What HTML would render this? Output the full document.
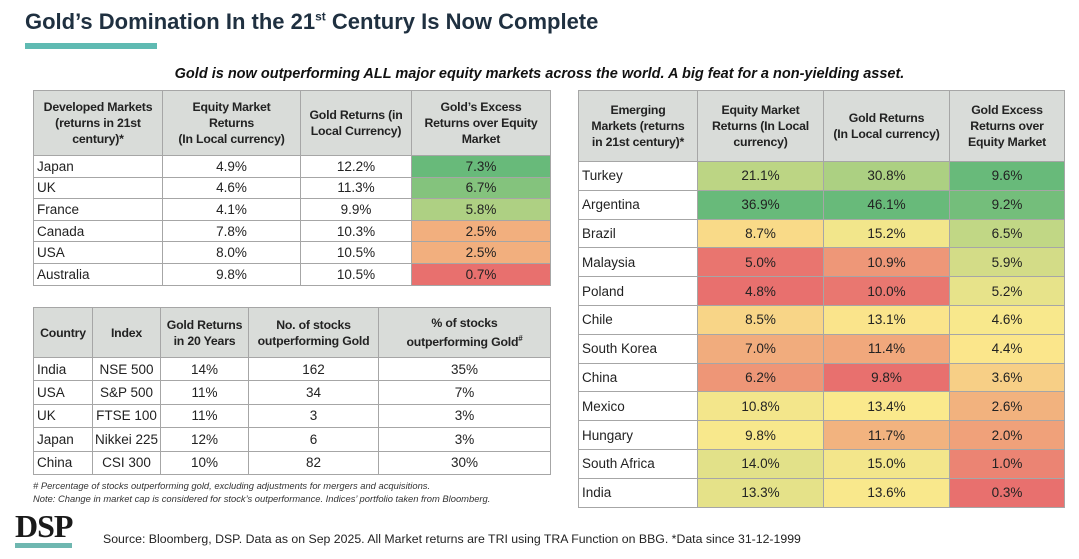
<!DOCTYPE html>
<html><head><meta charset="utf-8">
<style>
html,body{margin:0;padding:0;background:#fff;}
body{width:1079px;height:559px;position:relative;overflow:hidden;font-family:"Liberation Sans",sans-serif;color:#222;}
.abs{position:absolute;}
table{border-collapse:collapse;table-layout:fixed;position:absolute;}
td,th{border:1px solid #a6a6a6;padding:0;text-align:center;font-size:13.5px;white-space:nowrap;overflow:hidden;}
th{background:#d9dcd9;font-weight:bold;font-size:12.3px;line-height:16px;white-space:nowrap;color:#222;letter-spacing:-0.2px;}
td.l{text-align:left;padding-left:3px;}
</style></head><body>
<div class="abs" style="left:25px;top:9px;font-size:22px;font-weight:bold;color:#1f3040;">Gold’s Domination In the 21<sup style="font-size:12px;">st</sup> Century Is Now Complete</div>
<div class="abs" style="left:25px;top:43px;width:132px;height:6px;background:#5fbab2;"></div>
<div class="abs" style="left:0;width:1079px;top:66px;text-align:center;font-size:14.5px;font-weight:bold;font-style:italic;color:#111;">Gold is now outperforming ALL major equity markets across the world. A big feat for a non-yielding asset.</div>

<table id="t1" style="left:33px;top:90px;width:518px;"></table>
<table id="t2" style="left:33px;top:307px;width:517px;"></table>
<table id="t3" style="left:578px;top:90px;width:486px;"></table>

<div class="abs" style="left:33px;top:479px;font-size:9.4px;font-style:italic;color:#333;line-height:13px;"># Percentage of stocks outperforming gold, excluding adjustments for mergers and acquisitions.<br>Note: Change in market cap is considered for stock’s outperformance. Indices’ portfolio taken from Bloomberg.</div>
<div class="abs" style="left:15px;top:510px;font-family:'Liberation Serif',serif;font-weight:bold;font-size:32px;letter-spacing:-1px;color:#1a1a1a;line-height:32px;">DSP</div>
<div class="abs" style="left:15px;top:543px;width:57px;height:5px;background:#6fb7b0;"></div>
<div class="abs" style="left:103px;top:532px;font-size:12.3px;color:#222;">Source: Bloomberg, DSP. Data as on Sep 2025. All Market returns are TRI using TRA Function on BBG. *Data since 31-12-1999</div>

<script>
// Developed markets data
const dmCountries=["Japan","UK","France","Canada","USA","Australia"];
const dmEquity=[4.9,4.6,4.1,7.8,8.0,9.8];
const dmGold=[12.2,11.3,9.9,10.3,10.5,10.5];
const dmExcess=[7.3,6.7,5.8,2.5,2.5,0.7];
// Stocks outperforming gold
const spCountries=["India","USA","UK","Japan","China"];
const spIndex=["NSE 500","S&P 500","FTSE 100","Nikkei 225","CSI 300"];
const spGold=[14,11,11,12,10];
const spCount=[162,34,3,6,82];
const spPct=[35,7,3,3,30];
// Emerging markets data
const emCountries=["Turkey","Argentina","Brazil","Malaysia","Poland","Chile","South Korea","China","Mexico","Hungary","South Africa","India"];
const emEquity=[21.1,36.9,8.7,5.0,4.8,8.5,7.0,6.2,10.8,9.8,14.0,13.3];
const emGold=[30.8,46.1,15.2,10.9,10.0,13.1,11.4,9.8,13.4,11.7,15.0,13.6];
const emExcess=[9.6,9.2,6.5,5.9,5.2,4.6,4.4,3.6,2.6,2.0,1.0,0.3];

const RED=[232,112,110],YEL=[251,233,140],GRN=[104,186,122];
function mix(a,b,t){return 'rgb('+a.map((v,i)=>Math.round(v+(b[i]-v)*t)).join(',')+')';}
function scale(arr){
  const s=[...arr].sort((a,b)=>a-b),n=s.length;
  const med=n%2?s[(n-1)/2]:(s[n/2-1]+s[n/2])/2,mn=s[0],mx=s[n-1];
  return v=>v<=med?mix(RED,YEL,med===mn?1:(v-mn)/(med-mn)):mix(YEL,GRN,mx===med?0:(v-med)/(mx-med));
}
function build(id,widths,headers,headH,rowH,cols,colorCols,prefix){
  const t=document.getElementById(id);
  const cg=document.createElement('colgroup');
  widths.forEach(w=>{const c=document.createElement('col');c.style.width=w+'px';cg.appendChild(c);});
  t.appendChild(cg);
  const hr=document.createElement('tr');hr.style.height=headH+'px';
  
  
  headers.forEach((h,i)=>{const th=document.createElement('th');th.innerHTML=h;
    
    
    hr.appendChild(th);});
  t.appendChild(hr);
  const scales=colorCols.map(ci=>ci===null?null:scale(cols[ci].vals));
  for(let r=0;r<cols[0].vals.length;r++){
    const tr=document.createElement('tr');tr.style.height=rowH+'px';
    
    
    cols.forEach((c,ci)=>{
      const td=document.createElement('td');
      const v=c.vals[r];
      td.textContent=c.fmt?c.fmt(v):v;
      if(ci===0)td.className='l';
      if(scales[ci])td.style.background=scales[ci](v);
      
      
      tr.appendChild(td);
    });
    t.appendChild(tr);
  }
}
const p1=v=>v.toFixed(1)+'%',p0=v=>v+'%';
build('t1',[129,138,111,139],
 ["Developed Markets<br>(returns in 21st<br>century)*","Equity Market<br>Returns<br>(In Local currency)","Gold Returns (in<br>Local Currency)","Gold’s Excess<br>Returns over Equity<br>Market"],
 65,21.6,
 [{vals:dmCountries},{vals:dmEquity,fmt:p1},{vals:dmGold,fmt:p1},{vals:dmExcess,fmt:p1}],
 [null,null,null,3],'dm');
build('t2',[59,68,88,130,172],
 ["Country","Index","Gold Returns<br>in 20 Years","No. of stocks<br>outperforming Gold","% of stocks<br>outperforming Gold<sup style='font-size:8px'>#</sup>"],
 50,23.4,
 [{vals:spCountries},{vals:spIndex},{vals:spGold,fmt:p0},{vals:spCount},{vals:spPct,fmt:p0}],
 [null,null,null,null,null],'sp');
build('t3',[119,126,126,115],
 ["Emerging<br>Markets (returns<br>in 21st century)*","Equity Market<br>Returns (In Local<br>currency)","Gold Returns<br>(In Local currency)","Gold Excess<br>Returns over<br>Equity Market"],
 71,28.8,
 [{vals:emCountries},{vals:emEquity,fmt:p1},{vals:emGold,fmt:p1},{vals:emExcess,fmt:p1}],
 [null,1,2,3],'em');
</script>
</body></html>
